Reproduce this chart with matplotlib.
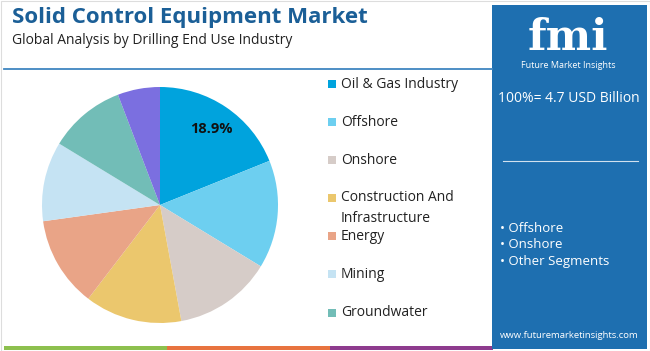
import numpy as np
import matplotlib
matplotlib.use("Agg")
import matplotlib.pyplot as plt
from matplotlib.patches import Rectangle

# ── Data ────────────────────────────────────────────────
segments = ["Oil & Gas Industry", "Offshore", "Onshore",
            "Construction And\nInfrastructure", "Energy", "Mining",
            "Groundwater", "Other"]
shares = [18.9, 14.8, 13.4, 13.3, 12.4, 10.9, 10.5, 5.8]
colors = ["#00a3dd", "#6dcff0", "#d6ccc8", "#ebc76d", "#e9a487",
          "#c5e3f3", "#72bdb7", "#7b6fe0"]
legend_rows = [84, 122, 160, 198, 236, 274, 313]   # pixel y of legend rows
panel_bullets = ["• Offshore", "• Onshore", "• Other Segments"]

TITLE = "Solid Control Equipment Market"
SUBTITLE = "Global Analysis by Drilling End Use Industry"
TOTAL = "100%= 4.7 USD Billion"

W, H = 650, 351
BLUE = "#1e6fb0"
FONT = "Open Sans"

fig = plt.figure(figsize=(W / 100, H / 100), dpi=100)
fig.patch.set_facecolor("white")

# overlay axes in pixel coords (y down)
ov = fig.add_axes([0, 0, 1, 1])
ov.set_xlim(0, W); ov.set_ylim(H, 0); ov.axis("off")

# frame
ov.add_patch(Rectangle((0.5, 0.5), W - 1, H - 1, fill=False, edgecolor="#dddddd", lw=0.8))

# ── Title block ─────────────────────────────────────────
ov.text(12, 18, TITLE, fontsize=16, fontweight="bold", color="#1b5f97",
        family=FONT, va="center", ha="left")
ov.text(12, 40, SUBTITLE, fontsize=10, color="#222222",
        family=FONT, va="center", ha="left")
ov.plot([4, 492], [69, 69], color="#3f86c0", lw=1.3)

# bottom colour bar
for x0, x1, c in [(4, 167, "#8dc04e"), (167, 330, "#e8733f"), (330, 493, "#8e3b8e")]:
    ov.add_patch(Rectangle((x0, 346), x1 - x0, 3.5, color=c, lw=0))

# ── Right panel ─────────────────────────────────────────
ov.add_patch(Rectangle((492, 5), 155, 344, color=BLUE, lw=0))
ov.text(568, 50, "fmi", fontsize=31, fontweight="bold", color="white",
        family="DejaVu Serif", ha="center", va="baseline")
ov.text(568, 65, "Future Market Insights", fontsize=6.5, color="white",
        family=FONT, ha="center", va="center")
ov.text(569, 98, TOTAL, fontsize=10, color="white", family=FONT,
        ha="center", va="center")
ov.plot([503, 638], [161, 161], color="white", lw=0.8, alpha=0.8)
for i, b in enumerate(panel_bullets):
    ov.text(500, 228 + i * 17, b, fontsize=9.5, color="white", family=FONT,
            ha="left", va="center")
ov.text(569, 335, "www.futuremarketinsights.com", fontsize=6.8, color="white",
        family=FONT, ha="center", va="center")

# ── Legend ──────────────────────────────────────────────
for name, c, y in zip(segments, colors, legend_rows):
    ov.add_patch(Rectangle((328, y - 4), 8, 8, color=c, lw=0))
    if "\n" in name:
        ov.text(341, y - 8, name, fontsize=10, color="#222222", family=FONT,
                ha="left", va="top", linespacing=1.55)
    else:
        ov.text(341, y, name, fontsize=10, color="#222222", family=FONT,
                ha="left", va="center")

# ── Pie ─────────────────────────────────────────────────
cx, cy, r = 160, 205, 118
ax = fig.add_axes([(cx - r) / W, (H - cy - r) / H, 2 * r / W, 2 * r / H])
wedges, _ = ax.pie(shares, colors=colors, startangle=90, counterclock=False,
                   wedgeprops=dict(linewidth=0))
ax.set_xlim(-1, 1); ax.set_ylim(-1, 1); ax.set_aspect("equal")
w0 = wedges[0]
mid = np.deg2rad((w0.theta1 + w0.theta2) / 2)
ax.text(0.78 * np.cos(mid), 0.78 * np.sin(mid), f"{shares[0]}%", fontsize=10.5,
        fontweight="bold", color="#111111", family=FONT, ha="center", va="center")

fig.savefig("out.png", dpi=100, facecolor="white")
